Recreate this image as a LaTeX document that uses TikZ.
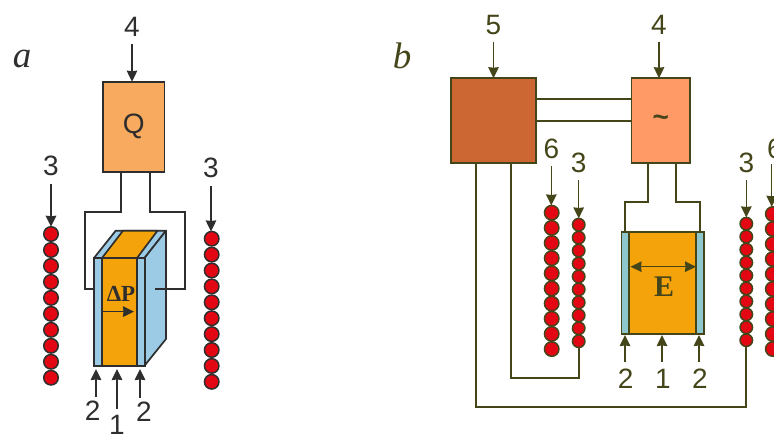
\documentclass[tikz,border=0pt]{standalone}
\usepackage{fontspec}
\setmainfont{Liberation Sans}
\newfontfamily\serifface{Liberation Serif}
\usetikzlibrary{arrows.meta,positioning}
\definecolor{inka}{HTML}{2E2E2E}
\definecolor{inkb}{HTML}{45451A}
\definecolor{ferro}{HTML}{F4A40A}
\definecolor{platea}{HTML}{9CCBE6}
\definecolor{plateb}{HTML}{8FC7CF}
\definecolor{beadred}{HTML}{E30613}
\begin{document}
\begin{tikzpicture}[
  x=1pt, y=-1pt,
  num/.style={inner sep=0pt, font=\fontsize{28}{28}\selectfont},
  letter/.style={inner sep=0pt, font=\fontsize{37}{37}\selectfont\serifface\itshape},
  bold/.style={inner sep=0pt, font=\fontsize{#1}{#1}\selectfont\serifface\bfseries},
  box/.style={draw, line width=1.7pt, inner sep=0pt, outer sep=0pt},
  plate/.style={box, minimum height=#1},
  wire/.style={line width=1.7pt, line join=miter},
  arr/.style={-{Stealth[length=11pt, width=10.5pt, inset=0.5pt]}, line width=1.5pt},
  bead/.style={circle, draw, line width=1.5pt, fill=beadred, inner sep=0pt, outer sep=0pt, minimum size=#1},
  bead/.default=14.5pt
]
\useasboundingbox (0,0) rectangle (774,434);

% panel a
\begin{scope}[color=inka, text=inka]
\node[letter] (laba) at (22,59) {a};
\node[box, fill={rgb,255:red,248;green,171;blue,94}, minimum width=61.5pt, minimum height=90pt, font=\fontsize{28}{28}\selectfont] (q) at (133.7,126.7) {Q};
\foreach \i in {0,...,9} {
  \node[bead] (la\i) at (51,234+15.97*\i) {};
  \node[bead] (ra\i) at (211.7,238.7+15.9*\i) {};
}
% block
\coordinate (fl) at (94,258);
\coordinate (fr) at (144.5,258);
\coordinate (br) at (144.5,365.7);
\coordinate (tl) at (115.7,230.7);
\coordinate (tr) at (166,230.7);
\coordinate (sr) at (166,339);
\draw[wire, fill=platea, line join=round] (fl) -- (tl) -- (tr) -- (fr) -- cycle;
\draw[wire, fill=platea, line join=round] (fr) -- (tr) -- (sr) -- (br) -- cycle;
\draw[wire, fill=ferro, line join=round] (102,258) -- (123,230.7) -- (157.5,230.7) -- (137,258) -- cycle;
\node[plate=107.7pt, fill=ferro, minimum width=35.5pt] (pz) at (119.5,311.85) {};
\node[plate=107.7pt, fill=platea, minimum width=8pt, left=0pt of pz] (pl) {};
\node[plate=107.7pt, fill=platea, minimum width=7.5pt, right=0pt of pz] (pr) {};
\node[bold=23] (dp) at (121,294) {ΔP};
\coordinate (dpa) at (103,311.6);
\coordinate (dpb) at (134,311.6);
\draw[arr] (dpa) -- (dpb);
% leads
\draw[wire] ([xshift=-12.7pt]q.south) -- ++(0,40.5) -- ++(-36,0) |- (pl.west |- 0,289);
\coordinate (rend) at (155,289);
\draw[wire] ([xshift=16.3pt]q.south) -- ++(0,40.5) -- ++(35,0) |- (rend);
% labels and arrows
\node[num] (a4) at (132,27) {4};
\draw[arr] ([yshift=-7pt]a4.south) -- (a4 |- q.north);
\node[num] (a3l) at (51,166) {3};
\draw[arr] ([yshift=-8pt]a3l.south) -- (a3l |- la0.north);
\node[num] (a3r) at (211,168) {3};
\draw[arr] ([yshift=-8pt]a3r.south) -- (a3r |- ra0.north);
\node[num] (a2l) at (92.7,411) {2};
\node[num] (a1) at (117,425) {1};
\node[num] (a2r) at (144,412) {2};
\coordinate (tipl) at (96,369);
\coordinate (tipm) at (117,369);
\coordinate (tipr) at (140,369);
\draw[arr] (tipl |- a2l.north) ++(0,-4) -- (tipl);
\draw[arr] (tipm |- a1.north) ++(0,-6) -- (tipm);
\draw[arr] (tipr |- a2r.north) ++(0,-4) -- (tipr);
\end{scope}

% panel b
\begin{scope}[color=inkb, text=inkb]
\node[letter] (labb) at (402,56) {b};
\node[box, fill={rgb,255:red,204;green,102;blue,51}, minimum width=85pt, minimum height=85pt] (gen) at (493.2,120.7) {};
\node[box, fill={rgb,255:red,255;green,153;blue,102}, minimum width=58.5pt, minimum height=85pt, font=\fontsize{28}{28}\selectfont\bfseries] (ac) at (660.8,120.7) {\raisebox{-1pt}{\char`~}};
\draw[wire] (gen.east |- 0,99) -- (ac.west |- 0,99);
\draw[wire] (gen.east |- 0,121) -- (ac.west |- 0,121);
\foreach \i in {0,...,9} {
  \node[bead] (c\i) at (551.7,212.7+15.15*\i) {};
  \node[bead=12.5pt] (d\i) at (578.7,224.7+12.95*\i) {};
  \node[bead=12.5pt] (e\i) at (746.3,223.7+12.95*\i) {};
  \node[bead] (f\i) at (772.8,214+15*\i) {};
}
% capacitor
\node[plate=102pt, fill=ferro, minimum width=67.3pt] (cap) at (662.65,283) {};
\node[plate=102pt, fill=plateb, minimum width=7.4pt, left=0pt of cap] (cl) {};
\node[plate=102pt, fill=plateb, minimum width=7.4pt, right=0pt of cap] (cr) {};
\node[bold=30] (field) at (664,286.7) {E};
\coordinate (fa) at (630.5,266.7);
\coordinate (fb) at (696,266.7);
\draw[{Stealth[length=11pt, width=10.5pt, inset=0.5pt]}-{Stealth[length=11pt, width=10.5pt, inset=0.5pt]}, line width=1.5pt] (fa) -- (fb);
% leads
\coordinate (cla) at (625.2,232);
\coordinate (clb) at (700,232);
\draw[wire] ([xshift=-12.8pt]ac.south) -- ++(0,38.5) -| (cla);
\draw[wire] ([xshift=15.2pt]ac.south) -- ++(0,38.5) -| (clb);
\draw[wire] ([xshift=17.8pt]gen.south) |- (560,377.7) -| (d9.south);
\draw[wire] ([xshift=-17.2pt]gen.south) |- (600,407) -| (e9.south);
% labels and arrows
\node[num] (b5) at (493.5,25) {5};
\draw[arr] ([yshift=-7pt]b5.south) -- (b5 |- gen.north);
\node[num] (b4) at (659,25) {4};
\draw[arr] ([yshift=-7pt]b4.south) -- (b4 |- ac.north);
\node[num] (b6l) at (551.3,149) {6};
\draw[arr] ([yshift=-7pt]b6l.south) -- (b6l |- c0.north);
\node[num] (b3l) at (578.7,163) {3};
\draw[arr] ([yshift=-7pt]b3l.south) -- (b3l |- d0.north);
\node[num] (b3r) at (746.3,163) {3};
\draw[arr] ([yshift=-7pt]b3r.south) -- (b3r |- e0.north);
\node[num] (b6r) at (775,149) {6};
\coordinate (b6t) at (771.7,164);
\draw[arr] (b6t) -- (b6t |- f0.north);
\node[num] (b2l) at (625.7,379) {2};
\node[num] (b1) at (663,379) {1};
\node[num] (b2r) at (700,379) {2};
\coordinate (ctl) at (625,335);
\coordinate (ctm) at (662,335);
\coordinate (ctr) at (699,335);
\draw[arr] (ctl |- b2l.north) ++(0,-7) -- (ctl);
\draw[arr] (ctm |- b1.north) ++(0,-7) -- (ctm);
\draw[arr] (ctr |- b2r.north) ++(0,-7) -- (ctr);
\end{scope}
\end{tikzpicture}
\end{document}
